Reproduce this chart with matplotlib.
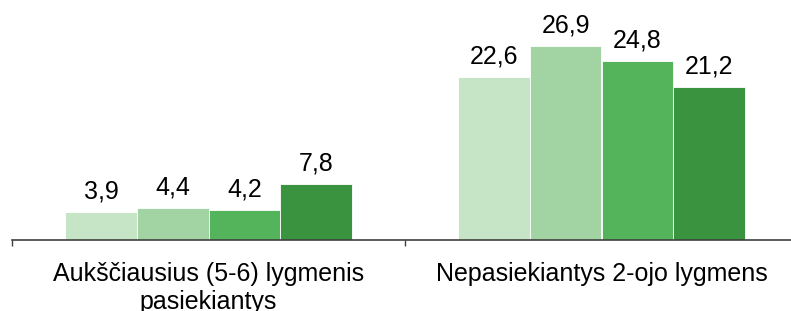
import numpy as np
import matplotlib.pyplot as plt

plt.rcParams['font.family'] = ['Liberation Sans', 'DejaVu Sans']

categories = ['Aukščiausius (5-6) lygmenis\npasiekiantys', 'Nepasiekiantys 2-ojo lygmens']
series = [
    [3.9, 22.6],
    [4.4, 26.9],
    [4.2, 24.8],
    [7.8, 21.2],
]
colors = ['#c6e5c7', '#a1d4a2', '#54b45c', '#3a943f']

fig = plt.figure(figsize=(7.91, 3.11), dpi=100)
ax = fig.add_axes([12/791, 71/311, 786/791, 240/311])

x = np.arange(len(categories))
w = 0.73 / 4
for i, vals in enumerate(series):
    pos = x - 0.365 + w * (i + 0.5)
    bars = ax.bar(pos, vals, width=w, color=colors[i], edgecolor='white', linewidth=0.6)
    for b, v in zip(bars, vals):
        ax.text(b.get_x() + b.get_width() / 2, v + 1.9, f'{v:.1f}'.replace('.', ','),
                ha='center', va='baseline', fontsize=18)

ax.set_xlim(-0.5, len(categories) - 0.5)
ax.set_ylim(0, 33.3)
ax.set_xticks(x)
ax.set_xticklabels(categories, fontsize=18, linespacing=1.2)
ax.set_xticks(np.arange(len(categories) + 1) - 0.5, minor=True)
ax.tick_params(axis='x', which='major', length=0, pad=16)
ax.tick_params(axis='x', which='minor', length=4, width=1, color='#404040')
ax.set_yticks([])
for s in ['top', 'right', 'left']:
    ax.spines[s].set_visible(False)
ax.spines['bottom'].set_color('#404040')
ax.spines['bottom'].set_linewidth(1.2)

plt.savefig('out.png', dpi=100)
